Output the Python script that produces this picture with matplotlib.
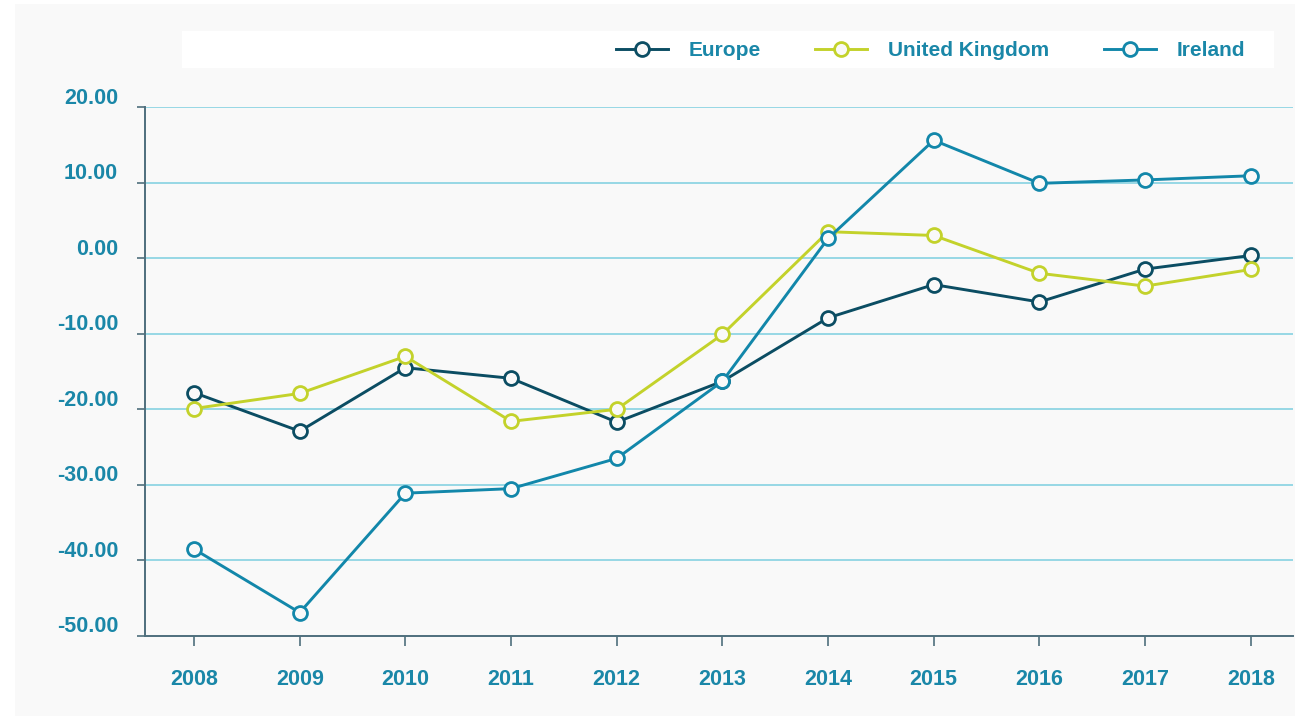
import matplotlib
matplotlib.use("Agg")
import matplotlib.pyplot as plt
import matplotlib.transforms as mtransforms
from matplotlib.patches import Rectangle


# data
years = [2008, 2009, 2010, 2011, 2012, 2013, 2014, 2015, 2016, 2017, 2018]
europe = [-17.8, -22.9, -14.5, -15.9, -21.7, -16.3, -7.9, -3.5, -5.8, -1.45, 0.35]
united_kingdom = [-19.9, -17.9, -13.0, -21.6, -20.0, -10.1, 3.5, 3.0, -2.0, -3.7, -1.5]
ireland = [-38.5, -46.9, -31.1, -30.5, -26.5, -16.3, 2.6, 15.6, 9.9, 10.35, 10.9]
y_ticks = [20, 10, 0, -10, -20, -30, -40, -50]

series_names = ["Europe", "United Kingdom", "Ireland"]
series_colors = ["#0b4d63", "#c3d22b", "#1287aa"]

label_color = "#1a87a8"
grid_color = "#7ccfe0"
spine_color = "#4f6f7d"
panel_color = "#f9f9f9"

plt.rcParams["font.family"] = ["Liberation Sans", "DejaVu Sans"]
plt.rcParams["font.weight"] = "bold"

W, H = 1295, 716
fig = plt.figure(figsize=(W / 100, H / 100), dpi=100)
fig.patch.set_facecolor("white")

# light grey panel behind everything
fig.add_artist(Rectangle((15 / W, 0), 1 - 15 / W, 1 - 4 / H,
                         transform=fig.transFigure, facecolor=panel_color,
                         edgecolor="none", zorder=-2))
# white strip holding the legend
fig.add_artist(Rectangle((182 / W, 1 - 68 / H), (1274 - 182) / W, 37 / H,
                         transform=fig.transFigure, facecolor="white",
                         edgecolor="none", zorder=-1))

ax = fig.add_axes([145 / W, 1 - 636 / H, (1293 - 145) / W, (636 - 107) / H])
ax.set_facecolor("none")

for vals, name, col in zip([europe, united_kingdom, ireland], series_names, series_colors):
    ax.plot(years, vals, color=col, lw=2.1, marker="o", markersize=10,
            markerfacecolor=panel_color, markeredgecolor=col, markeredgewidth=2.0,
            label=name, zorder=3, clip_on=False)

ax.set_xlim(2007.536, 2018.40)
ax.set_ylim(-50, 20)

for v in y_ticks:
    if v != -50:
        ax.axhline(v, color=grid_color, lw=1.1, zorder=1)

ax.set_yticks(y_ticks)
ax.set_yticklabels([])
ax.tick_params(axis="y", length=6, width=1.2, color=spine_color, direction="out")

# y labels sit a little above their gridline
offset = mtransforms.ScaledTranslation(-27 / 100, 9 / 100, fig.dpi_scale_trans)
trans = mtransforms.blended_transform_factory(ax.transAxes, ax.transData) + offset
for v in y_ticks:
    ax.text(0, v, f"{v:.2f}", transform=trans, ha="right", va="center",
            fontsize=15.5, fontweight="bold", color=label_color)

ax.set_xticks(years)
ax.set_xticklabels([str(y) for y in years], fontsize=15.5, fontweight="bold", color=label_color)
ax.tick_params(axis="x", length=7, width=1.2, color=spine_color, direction="out", pad=17)

for side in ["top", "right"]:
    ax.spines[side].set_visible(False)
for side in ["left", "bottom"]:
    ax.spines[side].set_color(spine_color)
    ax.spines[side].set_linewidth(1.4)

leg = ax.legend(loc="center right", bbox_to_anchor=(1245 / W, 1 - 51 / H),
                bbox_transform=fig.transFigure, ncol=3, frameon=False,
                prop={"size": 15, "weight": "bold"}, handlelength=2.5,
                handletextpad=1.0, columnspacing=2.6, borderpad=0, borderaxespad=0)
for t in leg.get_texts():
    t.set_color(label_color)

fig.savefig("out.png", dpi=100, facecolor=fig.get_facecolor())
